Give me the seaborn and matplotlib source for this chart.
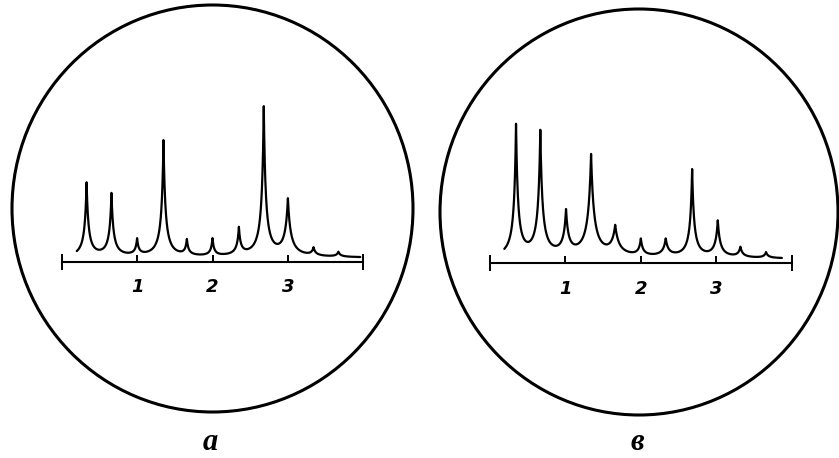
import numpy as np
import pandas as pd
import matplotlib
matplotlib.use("Agg")
import matplotlib.pyplot as plt
from matplotlib.patches import Ellipse
import seaborn as sns

# --- DATA (x in scale units, heights in the same units) ---
scale_ticks = [1, 2, 3]
tick_labels = ["1", "2", "3"]
panel_labels = ["а", "в"]

# trace "а"
pos_a = [0.33, 0.66, 1.00, 1.35, 1.66, 2.00, 2.35, 2.68, 3.00, 3.34, 3.67]
height_a = [1.05, 0.91, 0.31, 1.61, 0.30, 0.31, 0.46, 2.06, 0.84, 0.19, 0.13]
width_a = [0.05, 0.05, 0.04, 0.05, 0.04, 0.04, 0.045, 0.05, 0.07, 0.05, 0.05]
base_a = 0.05
range_a = [0.20, 3.96]

# trace "в"
pos_b = [0.345, 0.667, 1.008, 1.34, 1.66, 2.00, 2.33, 2.68, 3.02, 3.32, 3.66]
height_b = [1.85, 1.77, 0.72, 1.45, 0.51, 0.33, 0.33, 1.25, 0.57, 0.22, 0.15]
width_b = [0.05, 0.055, 0.06, 0.075, 0.09, 0.05, 0.065, 0.05, 0.06, 0.055, 0.05]
base_b = 0.06
range_b = [0.19, 3.87]


def trace(pos, height, width, base, xr):
    # cusp-shaped lines whose summed height matches the read peak heights
    pos, height, width = map(np.asarray, (pos, height, width))
    shape = lambda x, p, w: 1.0 / (1.0 + np.abs(x - p) / w) ** 2
    m = shape(pos[:, None], pos[None, :], width[None, :])
    amp = np.linalg.solve(m, height - base)
    x = np.union1d(np.linspace(xr[0], xr[1], 1500), pos)
    y = base + (amp[None, :] * shape(x[:, None], pos[None, :], width[None, :])).sum(axis=1)
    return pd.DataFrame({"x": x, "y": y})


sns.set_theme(style="white")
plt.rcParams["font.family"] = ["DejaVu Sans"]

W, H = 839, 458
fig = plt.figure(figsize=(W / 100, H / 100), dpi=100)

# background layer in pixel space: the two round frames and the panel letters
bg = fig.add_axes([0, 0, 1, 1])
bg.set_xlim(0, W)
bg.set_ylim(H, 0)
bg.axis("off")
frames = [(212.5, 208.5, 401, 407), (639, 212, 398, 406)]
for (cx, cy, ew, eh), lab in zip(frames, panel_labels):
    bg.add_patch(Ellipse((cx, cy), ew, eh, fill=False, lw=2.2, ec="black"))
    bg.text(cx - 2, 443, lab, fontsize=22, style="italic", fontweight="bold",
            family=["Liberation Serif", "DejaVu Serif"],
            ha="center", va="center", color="black")

# spectrum panels: (x of 0, x of 4, y of scale line) in pixels
panels = [(61.7, 363.3, 261.5), (490.0, 791.7, 263.3)]
data = [(pos_a, height_a, width_a, base_a, range_a),
        (pos_b, height_b, width_b, base_b, range_b)]
ymax = 2.4
for (x0, x4, yax), d in zip(panels, data):
    unit = (x4 - x0) / 4
    ax = fig.add_axes([x0 / W, (H - yax) / H, (x4 - x0) / W, ymax * unit / H])
    ax.patch.set_alpha(0)
    df = trace(*d)
    sns.lineplot(data=df, x="x", y="y", ax=ax, color="black", linewidth=1.6)
    ax.set_xlim(0, 4)
    ax.set_ylim(0, ymax)
    ax.set_xlabel("")
    ax.set_ylabel("")
    for s in ["top", "left", "right"]:
        ax.spines[s].set_visible(False)
    ax.spines["bottom"].set_linewidth(1.5)
    ax.spines["bottom"].set_color("black")
    ax.set_yticks([])
    ax.set_xticks(scale_ticks)
    ax.set_xticklabels(tick_labels, fontsize=13, style="italic", fontweight="bold")
    ax.set_xticks([0, 4], minor=True)
    ax.tick_params(axis="x", which="major", direction="in", length=5, width=1.4,
                   pad=12, colors="black", bottom=True)
    ax.tick_params(axis="x", which="minor", direction="inout", length=11, width=1.4,
                   colors="black", bottom=True)

fig.savefig("out.png", dpi=100, facecolor="white")
